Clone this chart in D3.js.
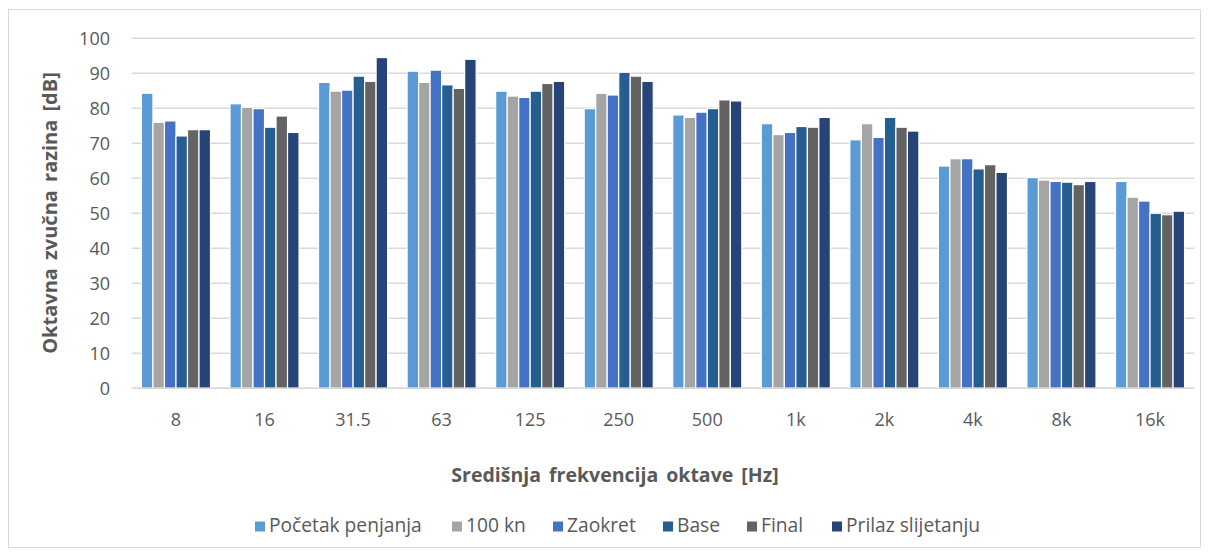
<!DOCTYPE html>
<html><head><meta charset="utf-8">
<script src="https://cdn.jsdelivr.net/npm/d3@7"></script>
<style>body{margin:0;background:#fff;} text{font-family:"Open Sans","Noto Sans",sans-serif;}</style>
</head><body><svg id="c" width="1208" height="556"></svg>
<script>
const categories = ["8","16","31.5","63","125","250","500","1k","2k","4k","8k","16k"];
const seriesNames = ["Početak penjanja","100 kn","Zaokret","Base","Final","Prilaz slijetanju"];
const pocetakPenjanja = [84.3,81.3,87.4,90.6,84.9,79.9,78.1,75.6,71.0,63.5,60.2,59.1];
const kn100 = [76.0,80.3,84.9,87.4,83.5,84.3,77.4,72.5,75.6,65.6,59.5,54.6];
const zaokret = [76.4,79.9,85.2,90.9,83.1,83.8,78.9,73.1,71.7,65.6,59.1,53.5];
const base = [72.1,74.6,89.2,86.7,84.9,90.3,79.9,74.8,77.4,62.7,58.9,50.0];
const finalS = [73.9,77.8,87.7,85.7,87.1,89.2,82.4,74.6,74.6,63.9,58.2,49.6];
const prilaz = [73.9,73.1,94.5,94.0,87.7,87.7,82.1,77.4,73.5,61.7,59.1,50.6];
const yTicks = [0,10,20,30,40,50,60,70,80,90,100];
const colors = ["#5B9BD5","#A5A5A5","#4472C4","#255E91","#636363","#264478"];
const series = [pocetakPenjanja,kn100,zaokret,base,finalS,prilaz];

const svg = d3.select("#c");
svg.append("rect").attr("x",8.5).attr("y",9.5).attr("width",1192).attr("height",538)
  .attr("fill","#fff").attr("stroke","#d9d9d9");

const pL=131.7, pR=1194.3, pT=38.3, pB=388.3;
const x = d3.scaleBand().domain(categories).range([pL,pR]).paddingInner(0.22).paddingOuter(0.11);
const x1 = d3.scaleBand().domain(d3.range(6)).range([0,x.bandwidth()]).padding(0);
const y = d3.scaleLinear().domain([0,100]).range([pB,pT]);

svg.append("g").selectAll("line").data(yTicks).join("line")
  .attr("x1",pL).attr("x2",pR).attr("y1",d=>y(d)).attr("y2",d=>y(d))
  .attr("stroke","#d9d9d9").attr("stroke-width",1.5);

svg.append("g").selectAll("text").data(yTicks).join("text")
  .attr("x",110).attr("y",d=>y(d)).attr("dy","0.36em").attr("text-anchor","end")
  .attr("fill","#595959").attr("font-size",18).text(d=>d);

const g = svg.append("g");
categories.forEach((c,i)=>{
  series.forEach((s,j)=>{
    g.append("rect").attr("x",x(c)+x1(j)).attr("width",x1.bandwidth())
      .attr("y",y(s[i])).attr("height",y(0)-y(s[i]))
      .attr("fill",colors[j]).attr("stroke","#fff").attr("stroke-width",1.2);
  });
});

svg.append("line").attr("x1",pL).attr("x2",pR).attr("y1",pB).attr("y2",pB)
  .attr("stroke","#d9d9d9").attr("stroke-width",1.5);

svg.append("g").selectAll("text").data(categories).join("text")
  .attr("x",d=>x(d)+x.bandwidth()/2).attr("y",426).attr("text-anchor","middle")
  .attr("fill","#595959").attr("font-size",18).text(d=>d);

svg.append("text").attr("x",615).attr("y",482).attr("text-anchor","middle")
  .attr("fill","#595959").attr("font-size",19.5).attr("font-weight","bold").attr("word-spacing",3)
  .text("Središnja frekvencija oktave [Hz]");
svg.append("text").attr("transform","translate(57,213) rotate(-90)").attr("text-anchor","middle")
  .attr("fill","#595959").attr("font-size",20).attr("font-weight","bold").attr("word-spacing",3)
  .text("Oktavna zvučna razina [dB]");

const legX = [255,452,553,663,747,832];
const lg = svg.append("g");
seriesNames.forEach((n,j)=>{
  lg.append("rect").attr("x",legX[j]).attr("y",521.5).attr("width",10).attr("height",10).attr("fill",colors[j]);
  lg.append("text").attr("x",legX[j]+14).attr("y",532).attr("fill","#595959").attr("font-size",19.2).text(n);
});
</script></body></html>
